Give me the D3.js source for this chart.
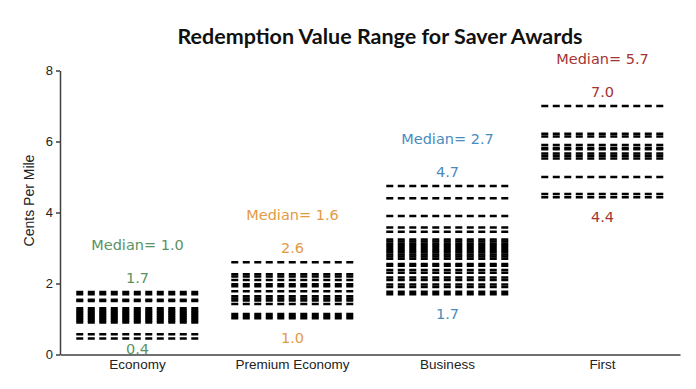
<!DOCTYPE html>
<html>
<head>
<meta charset="utf-8">
<script src="https://cdn.jsdelivr.net/npm/d3@7"></script>
<style>
  body { margin: 0; background: #fff; }
  .axis path, .axis line { stroke: #404040; stroke-width: 1.5; }
  .axis text { font-family: "Liberation Sans", Arial, sans-serif; font-size: 13px; fill: #222; }
  .chart-title { font-family: Lato, sans-serif; font-weight: 700; font-size: 21.5px; fill: #111; }
  .value-label { font-family: "DejaVu Sans", sans-serif; font-size: 14.5px; }
</style>
</head>
<body>
<div id="chartContainer"></div>
<script>
// klases un to iezīmes
var categories = ["Economy", "Premium Economy", "Business", "First"];
var labelColors = ["#5a9264", "#e39a45", "#4a8bbd", "#a33334"];

// katras klases vērtības (centi par jūdzi), nolasītas no attēla
var economyValues = [1.76, 1.7, 1.54, 1.51, 1.3, 1.25, 1.2, 1.15, 1.1, 1.05, 1.0, 0.95, 0.9, 0.57, 0.45];
var premiumValues = [2.6, 2.26, 2.2, 2.1, 1.98, 1.92, 1.78, 1.64, 1.58, 1.52, 1.42, 1.14, 1.08, 1.02];
var businessValues = [4.75, 4.4, 3.9, 3.58, 3.46, 3.24, 3.18, 3.12, 3.06, 3.0, 2.94, 2.88, 2.82, 2.76, 2.7,
                      2.55, 2.5, 2.38, 2.3, 2.17, 2.1, 1.97, 1.9, 1.77, 1.7];
var firstValues = [7.0, 6.22, 6.14, 5.9, 5.82, 5.78, 5.66, 5.6, 5.52, 5.0, 4.52, 4.43];

var medianLabels = ["1.0", "1.6", "2.7", "5.7"];
var maxLabels = ["1.7", "2.6", "4.7", "7.0"];
var minLabels = ["0.4", "1.0", "1.7", "4.4"];
var yTicks = [0, 2, 4, 6, 8];

Chart = {
    width : 696,
    height : 389,
    left : 60,
    right : 680,
    top : 70.5,
    bottom : 354.5,

    drawChart : function(){
        var svg = d3.select("#chartContainer")
            .append("svg")
            .attr("width", Chart.width)
            .attr("height", Chart.height);

        var x = d3.scaleBand()
            .domain(categories)
            .range([Chart.left, Chart.right])
            .paddingInner(0.21)
            .paddingOuter(0.105);

        var y = d3.scaleLinear()
            .domain([0, 8])
            .range([Chart.bottom, Chart.top]);

        this.drawTitle(svg);
        this.drawAxes(svg, x, y);
        this.drawDashes(svg, x, y);
        this.drawLabels(svg, x, y);
    },

    drawTitle : function(svg){
        svg.append("text")
            .attr("class", "chart-title")
            .attr("x", 380)
            .attr("y", 44)
            .attr("text-anchor", "middle")
            .text("Redemption Value Range for Saver Awards");
    },

    drawAxes : function(svg, x, y){
        svg.append("g")
            .attr("class", "axis")
            .attr("transform", "translate(" + Chart.left + ",0)")
            .call(d3.axisLeft(y).tickValues(yTicks).tickSize(4).tickSizeOuter(0).tickPadding(3));

        var xAxis = svg.append("g")
            .attr("class", "axis")
            .attr("transform", "translate(0," + Chart.bottom + ")")
            .call(d3.axisBottom(x).tickSize(0).tickSizeOuter(0).tickPadding(5));
        xAxis.selectAll("text").style("font-size", "13.5px");

        // y ass nosaukums
        svg.append("text")
            .attr("transform", "translate(34," + ((Chart.top + Chart.bottom) / 2 - 12) + ") rotate(-90)")
            .attr("text-anchor", "middle")
            .style("font-family", "'Liberation Sans', Arial, sans-serif")
            .style("font-size", "14px")
            .style("fill", "#222")
            .text("Cents Per Mile");
    },

    drawDashes : function(svg, x, y){
        var series = [economyValues, premiumValues, businessValues, firstValues];
        var g = svg.append("g").attr("class", "dashes");

        for (var i = 0; i < categories.length; i++){
            var x0 = x(categories[i]);
            var x1 = x0 + x.bandwidth();
            g.selectAll("line.c" + i)
                .data(series[i])
                .enter()
                .append("line")
                .attr("class", "c" + i)
                .attr("x1", x0)
                .attr("x2", x1)
                .attr("y1", function(d){ return y(d); })
                .attr("y2", function(d){ return y(d); })
                .style("stroke", "#000")
                .style("stroke-width", 2.5)
                .style("stroke-dasharray", "7,4.5");
        }
    },

    drawLabels : function(svg, x, y){
        var series = [economyValues, premiumValues, businessValues, firstValues];
        var g = svg.append("g").attr("class", "labels");

        for (var i = 0; i < categories.length; i++){
            var cx = x(categories[i]) + x.bandwidth() / 2;
            var yMax = y(d3.max(series[i]));
            var yMin = y(d3.min(series[i]));

            g.append("text")
                .attr("class", "value-label")
                .attr("x", cx)
                .attr("y", yMax - 9)
                .attr("text-anchor", "middle")
                .style("fill", labelColors[i])
                .text(maxLabels[i]);

            g.append("text")
                .attr("class", "value-label")
                .attr("x", cx)
                .attr("y", yMax - 42)
                .attr("text-anchor", "middle")
                .style("fill", labelColors[i])
                .text("Median= " + medianLabels[i]);

            g.append("text")
                .attr("class", "value-label")
                .attr("x", cx)
                .attr("y", Math.min(yMin + 25, Chart.bottom - 1))
                .attr("text-anchor", "middle")
                .style("fill", labelColors[i])
                .text(minLabels[i]);
        }
    }
};

Chart.drawChart();
</script>
</body>
</html>
